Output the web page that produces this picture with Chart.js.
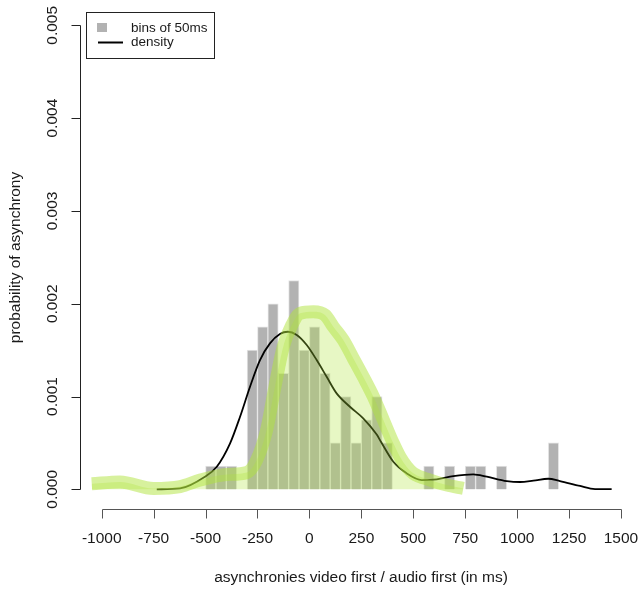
<!DOCTYPE html>
<html>
<head>
<meta charset="utf-8">
<script src="https://cdn.jsdelivr.net/npm/chart.js@4/dist/chart.umd.min.js"></script>
<style>
  html, body { margin: 0; padding: 0; background: #ffffff; }
  #wrap { position: relative; width: 640px; height: 591px; }
</style>
</head>
<body>
<div id="wrap"><canvas id="c"></canvas></div>
<script>
// ---- data ----
const binCenters = [-475, -425, -375, -275, -225, -175, -125, -75, -25, 25, 75, 125, 175, 225, 275, 325, 375, 575, 675, 775, 825, 925, 1175];
const binDensity = [0.00025, 0.00025, 0.00025, 0.0015, 0.00175, 0.002, 0.00125, 0.00225, 0.0015, 0.00175, 0.00125, 0.0005, 0.001, 0.0005, 0.00075, 0.001, 0.0005, 0.00025, 0.00025, 0.00025, 0.00025, 0.00025, 0.0005];

const densityX = [-735, -623, -503, -446, -382, -334, -286, -238, -190, -142, -104, -61, -13, 35, 83, 131, 195, 259, 324, 345, 404, 468, 541, 613, 693, 789, 854, 950, 1014, 1078, 1150, 1206, 1303, 1375, 1455];
const densityY = [0, 0.00001, 0.000136, 0.000244, 0.000496, 0.000782, 0.001106, 0.001393, 0.001573, 0.001673, 0.001698, 0.001663, 0.001555, 0.001393, 0.001213, 0.001034, 0.00089, 0.000765, 0.00059, 0.00051, 0.000297, 0.000172, 0.0001, 0.000108, 0.000143, 0.000162, 0.000136, 0.000089, 0.000079, 0.000093, 0.000114, 0.000089, 0.000036, 0.000003, 0.000003];

const greenX = [-1048, -912, -751, -622, -526, -398, -302, -254, -206, -166, -126, -85, -45, 19, 75, 115, 163, 211, 259, 308, 356, 404, 436, 468, 500, 581, 661, 741];
const greenY = [0.00006, 0.00008, 0.00001, 0.00003, 0.0001, 0.00016, 0.00018, 0.000316, 0.000639, 0.001106, 0.001537, 0.00177, 0.001897, 0.001914, 0.001878, 0.001752, 0.001609, 0.001412, 0.001213, 0.000998, 0.000747, 0.000496, 0.000351, 0.000244, 0.000172, 0.0001, 0.000046, 0.00001];

const xTickValues = [-1000, -750, -500, -250, 0, 250, 500, 750, 1000, 1250, 1500];
const xTickLabels = ['-1000', '-750', '-500', '-250', '0', '250', '500', '750', '1000', '1250', '1500'];
const yTickValues = [0, 0.001, 0.002, 0.003, 0.004, 0.005];
const yTickLabels = ['0.000', '0.001', '0.002', '0.003', '0.004', '0.005'];

const xTitle = 'asynchronies video first / audio first (in ms)';
const yTitle = 'probability of asynchrony';
const legendLabels = ['bins of 50ms', 'density'];

// ---- styling ----
const FONT = '"Liberation Sans", Arial, sans-serif';
const barColor = '#b2b2b2';
const greenLine = 'rgba(175,228,60,0.5)';
const greenFill = 'rgba(175,228,60,0.3)';

const zip = (xs, ys) => xs.map((x, i) => ({ x: x, y: ys[i] }));

const rAxes = {
  id: 'rAxes',
  afterDraw(chart) {
    const ctx = chart.ctx;
    const xs = chart.scales.x, ys = chart.scales.y;
    const area = chart.chartArea;
    ctx.save();
    // x axis
    const yAx = Math.round(area.bottom) + 0.5;
    const x0 = xs.getPixelForValue(xTickValues[0]);
    const x1 = xs.getPixelForValue(xTickValues[xTickValues.length - 1]);
    ctx.strokeStyle = '#555';
    ctx.lineWidth = 1;
    ctx.beginPath();
    ctx.moveTo(Math.round(x0) + 0.5, yAx);
    ctx.lineTo(Math.round(x1) + 0.5, yAx);
    xTickValues.forEach(v => {
      const px = Math.round(xs.getPixelForValue(v)) + 0.5;
      ctx.moveTo(px, yAx);
      ctx.lineTo(px, yAx + 9);
    });
    ctx.stroke();
    ctx.fillStyle = '#1a1a1a';
    ctx.font = '15.5px ' + FONT;
    ctx.textAlign = 'center';
    ctx.textBaseline = 'middle';
    xTickValues.forEach((v, i) => {
      ctx.fillText(xTickLabels[i], xs.getPixelForValue(v), 539);
    });
    ctx.fillText(xTitle, (xs.left + xs.right) / 2 + 1, 578);

    // y axis
    const xAx = Math.round(area.left) + 0.5;
    const ya = ys.getPixelForValue(yTickValues[0]);
    const yb = ys.getPixelForValue(yTickValues[yTickValues.length - 1]);
    ctx.strokeStyle = '#222';
    ctx.beginPath();
    ctx.moveTo(xAx, Math.round(ya) + 0.5);
    ctx.lineTo(xAx, Math.round(yb) + 0.5);
    yTickValues.forEach(v => {
      const py = Math.round(ys.getPixelForValue(v)) + 0.5;
      ctx.moveTo(xAx, py);
      ctx.lineTo(xAx - 9, py);
    });
    ctx.stroke();
    yTickValues.forEach((v, i) => {
      ctx.save();
      ctx.translate(53, ys.getPixelForValue(v));
      ctx.rotate(-Math.PI / 2);
      ctx.fillText(yTickLabels[i], 0, 0);
      ctx.restore();
    });
    ctx.save();
    ctx.translate(16, (area.top + area.bottom) / 2 + 3);
    ctx.rotate(-Math.PI / 2);
    ctx.fillText(yTitle, 0, 0);
    ctx.restore();

    // legend
    ctx.strokeStyle = '#222';
    ctx.lineWidth = 1;
    ctx.strokeRect(86.5, 12.5, 128, 46);
    ctx.fillStyle = barColor;
    ctx.fillRect(97, 23, 10, 9);
    ctx.strokeStyle = '#000';
    ctx.lineWidth = 2;
    ctx.beginPath();
    ctx.moveTo(98, 42.5);
    ctx.lineTo(123, 42.5);
    ctx.stroke();
    ctx.fillStyle = '#1a1a1a';
    ctx.font = '13.5px ' + FONT;
    ctx.textAlign = 'left';
    ctx.fillText(legendLabels[0], 131, 28.5);
    ctx.fillText(legendLabels[1], 131, 42.5);
    ctx.restore();
  }
};

new Chart(document.getElementById('c'), {
  type: 'bar',
  data: {
    datasets: [
      {
        type: 'line',
        label: 'green',
        data: zip(greenX, greenY),
        borderColor: greenLine,
        backgroundColor: greenFill,
        borderWidth: 13,
        fill: 'origin',
        pointRadius: 0,
        cubicInterpolationMode: 'monotone',
        order: 1
      },
      {
        type: 'line',
        label: legendLabels[1],
        data: zip(densityX, densityY),
        borderColor: '#000000',
        borderWidth: 1.8,
        fill: false,
        pointRadius: 0,
        cubicInterpolationMode: 'monotone',
        order: 2
      },
      {
        type: 'bar',
        label: legendLabels[0],
        data: zip(binCenters, binDensity),
        backgroundColor: barColor,
        borderColor: '#e4e4e4',
        borderWidth: 1,
        barPercentage: 1,
        categoryPercentage: 1,
        order: 3
      }
    ]
  },
  options: {
    responsive: true,
    maintainAspectRatio: false,
    animation: false,
    devicePixelRatio: 1,
    layout: { padding: { top: 0, right: 0, bottom: 0, left: 0 } },
    plugins: { legend: { display: false }, tooltip: { enabled: false } },
    scales: {
      x: {
        type: 'linear',
        offset: false,
        min: -1104.5,
        max: 1591.5,
        grid: { display: false },
        border: { display: false },
        ticks: { display: false },
        afterBuildTicks(s) { s.ticks = xTickValues.map(v => ({ value: v })); },
        afterFit(s) { s.height = 82; }
      },
      y: {
        type: 'linear',
        min: -0.000212,
        max: 0.005273,
        grid: { display: false },
        border: { display: false },
        ticks: { display: false },
        afterBuildTicks(s) { s.ticks = yTickValues.map(v => ({ value: v })); },
        afterFit(s) { s.width = 80; }
      }
    }
  },
  plugins: [rAxes]
});
</script>
</body>
</html>
